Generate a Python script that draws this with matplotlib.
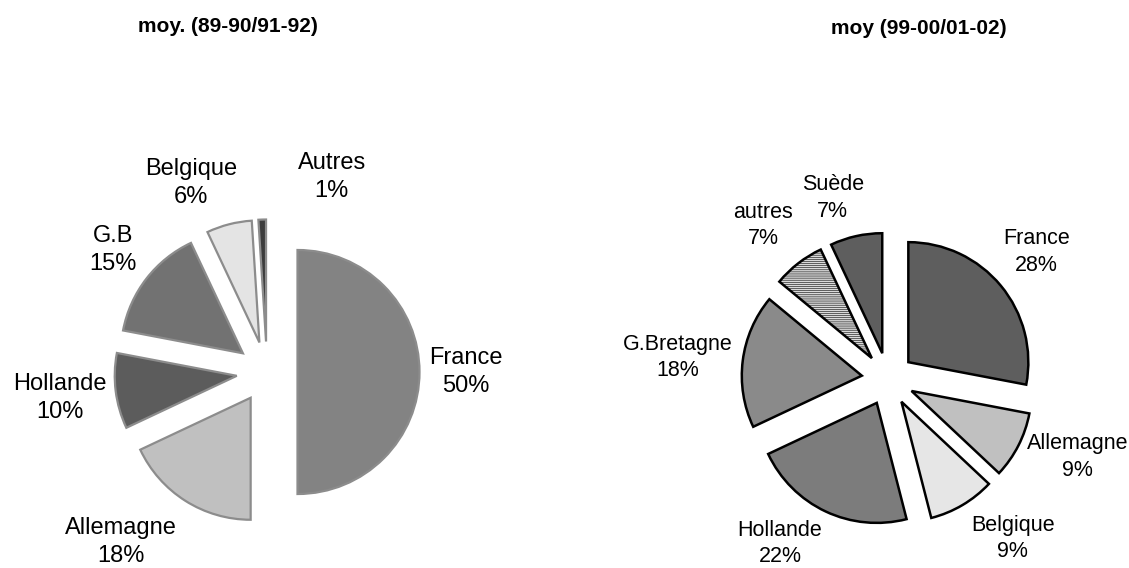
#!/usr/bin/env python3
"""Two exploded pie charts: average shares per destination, two periods."""

import matplotlib
matplotlib.use("Agg")
import matplotlib.pyplot as plt

plt.rcParams["font.family"] = ["Liberation Sans", "DejaVu Sans"]
plt.rcParams["hatch.linewidth"] = 0.4

W, H = 1129, 568

# --- data -------------------------------------------------------------
left_title = "moy. (89-90/91-92)"
left_names = ["France", "Allemagne", "Hollande", "G.B", "Belgique", "Autres"]
left_values = [50, 18, 10, 15, 6, 1]

right_title = "moy (99-00/01-02)"
right_names = ["France", "Allemagne", "Belgique", "Hollande", "G.Bretagne",
               "autres", "Suède"]
right_values = [28, 9, 9, 22, 18, 7, 7]

# --- styling / layout -------------------------------------------------
left_colors = ["#838383", "#c0c0c0", "#5c5c5c", "#727272", "#e4e4e4", "#3c3c3c"]
right_colors = ["#5e5e5e", "#c0c0c0", "#e6e6e6", "#7c7c7c", "#8a8a8a",
                "#dadada", "#5e5e5e"]
right_hatches = [None, None, None, None, None, "-" * 8, None]
# label centres in units of the pie radius
left_label_pos = [(1.63, 0.0), (-1.20, -1.39), (-1.70, -0.21),
                  (-1.26, 1.0), (-0.62, 1.55), (0.53, 1.60)]
right_label_pos = [(1.24, 1.06), (1.58, -0.65), (1.04, -1.33),
                   (-0.90, -1.37), (-1.75, 0.18), (-1.04, 1.28),
                   (-0.46, 1.51)]


def pie_axes(fig, cx, cy, r_px, half=2.0):
    """Square axes whose data unit equals r_px pixels, centred at (cx, cy)."""
    side = 2 * half * r_px
    ax = fig.add_axes([(cx - side / 2) / W, (H - cy - side / 2) / H,
                       side / W, side / H])
    ax.set_xlim(-half, half)
    ax.set_ylim(-half, half)
    ax.set_axis_off()
    return ax


def draw_pie(ax, names, values, colors, explode, edge, lw, label_pos, fs,
             hatches=None):
    wedges, _ = ax.pie(values, colors=colors, explode=[explode] * len(values),
                       startangle=90, counterclock=False, radius=1.0, frame=True,
                       wedgeprops=dict(edgecolor=edge, linewidth=lw))
    if hatches:
        for w, h in zip(wedges, hatches):
            if h:
                w.set_hatch(h)
    ax.set_xlim(-2, 2)
    ax.set_ylim(-2, 2)
    ax.set_axis_off()
    for name, val, (x, y) in zip(names, values, label_pos):
        ax.text(x, y, f"{name}\n{val}%", ha="center", va="center",
                multialignment="center", fontsize=fs, linespacing=1.35)


fig = plt.figure(figsize=(W / 100, H / 100), dpi=100)

ax1 = pie_axes(fig, 267, 372, 122)
draw_pie(ax1, left_names, left_values, left_colors, 0.25, "#8c8c8c", 1.6,
         left_label_pos, 17)

ax2 = pie_axes(fig, 888, 379, 120)
draw_pie(ax2, right_names, right_values, right_colors, 0.22, "black", 1.8,
         right_label_pos, 15.5, right_hatches)

fig.text(228 / W, 1 - 26 / H, left_title, ha="center", va="center",
         fontsize=15, fontweight="bold")
fig.text(919 / W, 1 - 29 / H, right_title, ha="center", va="center",
         fontsize=15, fontweight="bold")

fig.savefig("out.png", dpi=100, facecolor="white")
